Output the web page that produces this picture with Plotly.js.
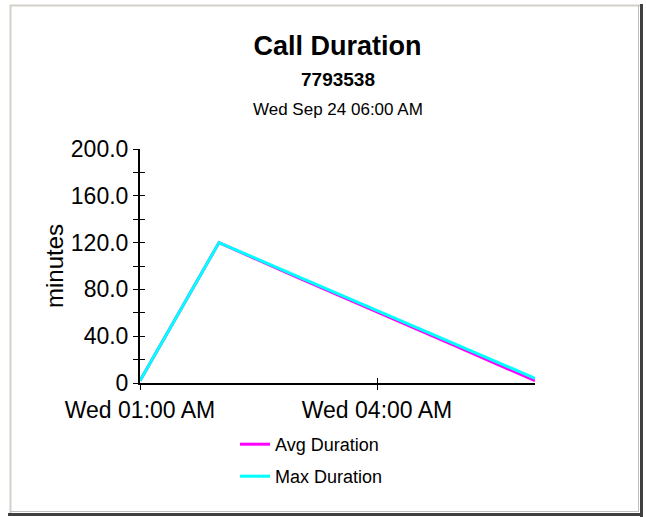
<!DOCTYPE html>
<html>
<head>
<meta charset="utf-8">
<script src="https://cdn.plot.ly/plotly-3.0.1.min.js"></script>
<style>
html,body{margin:0;padding:0;background:#ffffff;}
#chart{width:646px;height:517px;}
</style>
</head>
<body>
<div id="chart"></div>
<script>
// ---- data ----
var times = ["2003-09-24 01:00", "2003-09-24 02:00", "2003-09-24 03:00", "2003-09-24 04:00", "2003-09-24 05:00", "2003-09-24 06:00"];
var avgDuration = [2, 120, 90, 61, 31.5, 2];
var maxDuration = [2, 120, 91, 62, 33, 4];
var xTickVals = ["2003-09-24 01:00", "2003-09-24 04:00"];
var xTickText = ["Wed 01:00 AM", "Wed 04:00 AM"];
var yTickVals = [0, 20, 40, 60, 80, 100, 120, 140, 160, 180, 200];
var yTickText = ["0", "", "40.0", "", "80.0", "", "120.0", "", "160.0", "", "200.0"];
var chartTitle = "Call Duration";
var subTitle1 = "7793538";
var subTitle2 = "Wed Sep 24 06:00 AM";
var yTitle = "minutes";
var seriesNames = ["Avg Duration", "Max Duration"];
var seriesColors = ["#ff00ff", "#00ffff"];

var FONT = "Liberation Sans, Arial, sans-serif";

// pixel geometry helpers (paper coords)
var L = 140, R = 535, T = 149, B = 383, W = 646, H = 517;
function px(x){ return (x - L) / (R - L); }
function py(y){ return (B - y) / (B - T); }

var traces = [
  {x: times, y: avgDuration, name: seriesNames[0], type: "scatter", mode: "lines",
   line: {color: seriesColors[0], width: 3}, legend: "legend", xaxis: "x", yaxis: "y"},
  {x: times, y: maxDuration, name: seriesNames[1], type: "scatter", mode: "lines",
   line: {color: seriesColors[1], width: 3}, legend: "legend2", xaxis: "x", yaxis: "y"},
  // helper trace so the inner-tick overlay axes get drawn (invisible)
  {x: times, y: maxDuration, type: "scatter", mode: "lines", showlegend: false, hoverinfo: "skip",
   line: {color: "rgba(0,0,0,0)", width: 0}, xaxis: "x2", yaxis: "y2"}
];

var xRange = [times[0], times[times.length - 1]];

var legendBase = {
  xanchor: "left", yanchor: "top",
  font: {family: FONT, size: 18, color: "#000"},
  bgcolor: "rgba(0,0,0,0)", borderwidth: 0
};

var layout = {
  width: W, height: H,
  margin: {l: L, r: W - R, t: T, b: H - B, pad: 0},
  paper_bgcolor: "#ffffff",
  plot_bgcolor: "#ffffff",
  font: {family: FONT, color: "#000000", size: 23},
  showlegend: true,
  title: {text: "<b>" + chartTitle + "</b>", font: {family: FONT, size: 27, color: "#000"},
          x: 0.5, xref: "paper", xanchor: "center", y: 1 - 46 / H, yanchor: "middle"},
  xaxis: {
    type: "date", range: xRange, tickmode: "array", tickvals: xTickVals, ticktext: xTickText,
    showline: true, linecolor: "#000", linewidth: 2, showgrid: false, zeroline: false,
    ticks: "outside", ticklen: 5, tickwidth: 1, tickcolor: "#000",
    tickfont: {family: FONT, size: 23, color: "#000"}, fixedrange: true
  },
  xaxis2: {
    type: "date", range: xRange, overlaying: "x", anchor: "y", side: "bottom",
    tickmode: "array", tickvals: xTickVals, showticklabels: false,
    showline: false, showgrid: false, zeroline: false,
    ticks: "inside", ticklen: 5, tickwidth: 1, tickcolor: "#000"
  },
  yaxis: {
    range: [0, 200], tickmode: "array", tickvals: yTickVals, ticktext: yTickText,
    showline: true, linecolor: "#000", linewidth: 2, showgrid: false, zeroline: false,
    ticks: "outside", ticklen: 5, tickwidth: 1, tickcolor: "#000",
    tickfont: {family: FONT, size: 23, color: "#000"},
    title: {text: yTitle, font: {family: FONT, size: 24, color: "#000"}, standoff: 0}
  },
  yaxis2: {
    range: [0, 200], overlaying: "y", anchor: "x", side: "left",
    tickmode: "array", tickvals: yTickVals, showticklabels: false,
    showline: false, showgrid: false, zeroline: false,
    ticks: "inside", ticklen: 5, tickwidth: 1, tickcolor: "#000"
  },
  legend: Object.assign({}, legendBase, {x: px(235), y: py(426)}),
  legend2: Object.assign({}, legendBase, {x: px(235), y: py(458)}),
  annotations: [
    {text: "<b>" + subTitle1 + "</b>", xref: "paper", yref: "paper", x: 0.5, y: py(80),
     xanchor: "center", yanchor: "middle", showarrow: false, font: {family: FONT, size: 19, color: "#000"}},
    {text: subTitle2, xref: "paper", yref: "paper", x: 0.5, y: py(110),
     xanchor: "center", yanchor: "middle", showarrow: false, font: {family: FONT, size: 17, color: "#000"}}
  ],
  shapes: [
    // panel frame: light top/left, dark bottom/right
    {type: "line", xref: "paper", yref: "paper", x0: px(10), x1: px(641), y0: py(5.5), y1: py(5.5),
     line: {color: "#d4d0c8", width: 2}, layer: "below"},
    {type: "line", xref: "paper", yref: "paper", x0: px(10.5), x1: px(10.5), y0: py(5), y1: py(514),
     line: {color: "#d4d0c8", width: 2}, layer: "below"},
    {type: "line", xref: "paper", yref: "paper", x0: px(638.5), x1: px(638.5), y0: py(5), y1: py(512),
     line: {color: "#c0c0c0", width: 1}, layer: "below"},
    {type: "line", xref: "paper", yref: "paper", x0: px(641.5), x1: px(641.5), y0: py(4), y1: py(517),
     line: {color: "#404040", width: 3}, layer: "below"},
    {type: "line", xref: "paper", yref: "paper", x0: px(10), x1: px(639), y0: py(511.5), y1: py(511.5),
     line: {color: "#c0c0c0", width: 1}, layer: "below"},
    {type: "line", xref: "paper", yref: "paper", x0: px(8), x1: px(643), y0: py(514.5), y1: py(514.5),
     line: {color: "#404040", width: 3}, layer: "below"}
  ]
};

Plotly.newPlot("chart", traces, layout, {staticPlot: true, displayModeBar: false});
</script>
</body>
</html>
